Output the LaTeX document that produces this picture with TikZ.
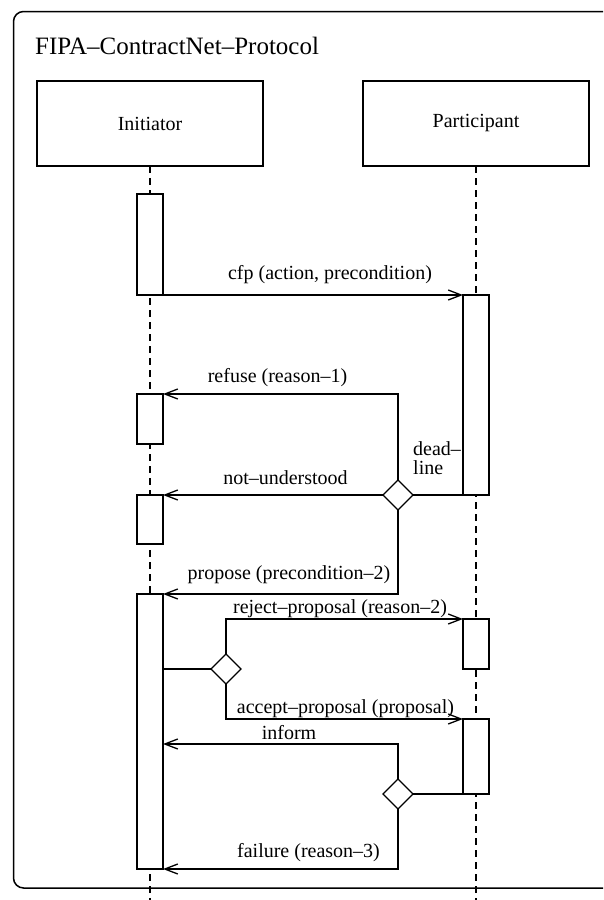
\documentclass[tikz,border=0pt]{standalone}
\usepackage{fontspec}
\setmainfont{Liberation Serif}
\usetikzlibrary{arrows.meta,shapes.geometric}
\begin{document}
\begin{tikzpicture}[x=1pt,y=-1pt,
  every node/.style={font=\fontsize{20}{22}\selectfont},
  lane/.style={draw, line width=1.3pt, minimum width=226pt, minimum height=85pt, inner sep=0pt, outer sep=0pt},
  act/.style={draw, fill=white, line width=1.3pt, minimum width=26pt, inner sep=0pt, outer sep=0pt},
  choice/.style={draw, fill=white, diamond, line width=1.3pt, minimum width=30pt, minimum height=30pt, inner sep=0pt, outer sep=0pt},
  life/.style={line width=1.3pt, dash pattern=on 7pt off 5pt},
  msg/.style={line width=1.3pt, -{Straight Barb[length=13pt,width=10pt]}},
  link/.style={line width=1.3pt},
  lbl/.style={anchor=base, inner sep=0pt},
]
\useasboundingbox (0,0) rectangle (603,900);
% frame
\coordinate (ftr) at (603,11.5);
\coordinate (ftl) at (13.5,11.5);
\coordinate (fbl) at (13.5,888);
\coordinate (fbr) at (603,888);
\draw[line width=1.5pt, rounded corners=10pt] (ftr) -- (ftl) -- (fbl) -- (fbr);
\node[anchor=base west, inner sep=0pt, font=\fontsize{25}{28}\selectfont] (title) at (35,54) {FIPA–ContractNet–Protocol};

% roles
\node[lane] (ini) at (150,123.5) {Initiator};
\node[lane] (par) at (476,123.5) {Participant};
\coordinate (iniend) at (150,900);
\coordinate (parend) at (476,900);
\draw[life] (ini.south) -- (iniend);
\draw[life] (par.south) -- (parend);

% activations
\node[act, minimum height=101pt] (a1) at (150,244.5) {};
\node[act, minimum height=50pt] (a2) at (150,419) {};
\node[act, minimum height=49pt] (a3) at (150,519.5) {};
\node[act, minimum height=275pt] (a4) at (150,731.5) {};
\node[act, minimum height=200pt] (p1) at (476,395) {};
\node[act, minimum height=50pt] (p2) at (476,644) {};
\node[act, minimum height=75pt] (p3) at (476,756.5) {};

% decisions
\node[choice] (d1) at (398,495) {};
\node[choice] (d2) at (226,669) {};
\node[choice] (d3) at (398,794) {};

% messages
\draw[msg] (a1.south east) -- (p1.north west);
\draw[msg] (d1.north) |- (a2.north east);
\draw[msg] (d1.west) -- (a3.north east);
\draw[link] (p1.south west) -- (d1.east);
\draw[msg] (d1.south) |- (a4.north east);
\draw[link] (a4.east |- d2.west) -- (d2.west);
\draw[msg] (d2.north) |- (p2.north west);
\draw[msg] (d2.south) |- (p3.north west);
\draw[link] (p3.south west) -- (d3.east);
\coordinate (informend) at (163,744);
\draw[msg] (d3.north) |- (informend);
\draw[msg] (d3.south) |- (a4.south east);

% labels
\node[lbl] (lcfp) at (330,279) {cfp (action, precondition)};
\node[lbl] (lref) at (277.5,382) {refuse (reason–1)};
\node[lbl] (lnu) at (285.5,484) {not–understood};
\node[anchor=north west, align=left, inner sep=0pt, font=\fontsize{20}{19.5}\selectfont] (ldl) at (413,441) {dead–\\line};
\node[lbl] (lpro) at (289,579) {propose (precondition–2)};
\node[lbl] (lrej) at (340,613) {reject–proposal (reason–2)};
\node[lbl] (lacc) at (345.5,713) {accept–proposal (proposal)};
\node[lbl] (linf) at (289,739) {inform};
\node[lbl] (lfail) at (308.5,857) {failure (reason–3)};
\end{tikzpicture}
\end{document}
